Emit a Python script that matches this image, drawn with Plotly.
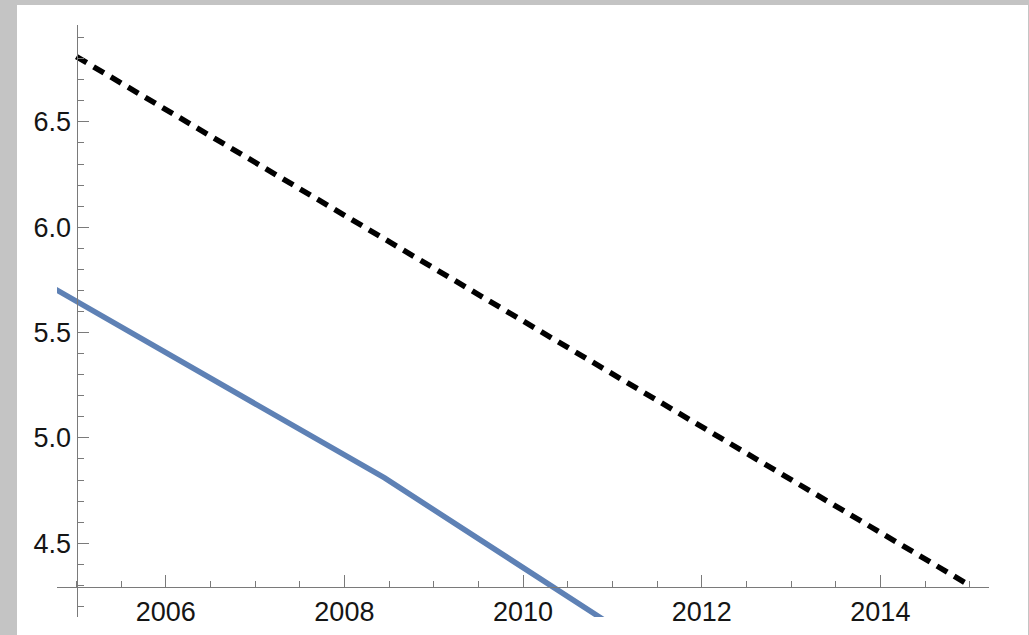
import plotly.graph_objects as go

# Series data
trend_years = [2005, 2015]
trend_values = [6.81, 4.30]

observed_years = [2004.5, 2008.45, 2011.0]
observed_values = [5.77, 4.81, 4.11]

# Axis ticks
x_major = [2006, 2008, 2010, 2012, 2014]
y_major = [4.5, 5.0, 5.5, 6.0, 6.5]

W, H = 1029, 635
AXIS_GRAY = "#7a7a7a"
LABEL_FONT = dict(family="Liberation Sans, Arial, sans-serif", size=27, color="#151515")

fig = go.Figure()

fig.add_trace(go.Scatter(
    x=observed_years, y=observed_values, mode="lines",
    line=dict(color="#5E81B5", width=5.5), hoverinfo="skip", showlegend=False,
))
fig.add_trace(go.Scatter(
    x=trend_years, y=trend_values, mode="lines",
    line=dict(color="#000000", width=5.5, dash="12px,8px"), hoverinfo="skip", showlegend=False,
))

# axis placement in paper fractions
x_dom = [57 / W, 989 / W]
y_dom = [(H - 617) / H, (H - 25) / H]

fig.update_layout(
    width=W, height=H,
    margin=dict(l=0, r=0, t=0, b=0),
    paper_bgcolor="#c4c4c4",
    plot_bgcolor="rgba(0,0,0,0)",
    shapes=[dict(
        type="rect", xref="paper", yref="paper",
        x0=17 / W, x1=1028 / W, y0=0, y1=(H - 5) / H,
        fillcolor="white", line=dict(width=0), layer="below",
    )],
    xaxis=dict(
        domain=x_dom, range=[2004.783, 2015.216],
        anchor="free", position=(H - 587.3) / H,
        showgrid=False, zeroline=False,
        showline=True, linecolor=AXIS_GRAY, linewidth=1,
        tickmode="array", tickvals=x_major, ticktext=[str(v) for v in x_major],
        ticks="inside", ticklen=12, tickcolor=AXIS_GRAY, tickwidth=1,
        tickfont=LABEL_FONT,
        minor=dict(tick0=2005, dtick=0.5, ticks="inside", ticklen=6,
                   tickcolor=AXIS_GRAY, tickwidth=1, showgrid=False),
    ),
    yaxis=dict(
        domain=y_dom, range=[4.150, 6.960],
        anchor="free", position=76.5 / W,
        showgrid=False, zeroline=False,
        showline=True, linecolor=AXIS_GRAY, linewidth=1,
        tickmode="array", tickvals=y_major, ticktext=[f"{v:.1f}" for v in y_major],
        ticks="inside", ticklen=11, tickcolor=AXIS_GRAY, tickwidth=1,
        tickfont=LABEL_FONT,
        minor=dict(tick0=4.0, dtick=0.1, ticks="inside", ticklen=6,
                   tickcolor=AXIS_GRAY, tickwidth=1, showgrid=False),
    ),
)

fig.write_html("out.html")
